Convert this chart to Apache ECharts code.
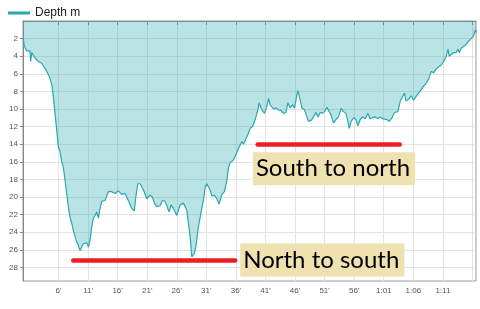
<!DOCTYPE html>
<html><head><meta charset="utf-8">
<script src="https://cdn.jsdelivr.net/npm/echarts@6/dist/echarts.min.js"></script>
<style>html,body{margin:0;padding:0;background:#fff}#c{width:480px;height:309px}</style>
</head><body><div id="c"></div>
<script>
const seriesName = 'Depth m';
const minutes = [0.05,0.17,0.34,0.63,0.90,1.18,1.30,1.47,1.74,2.03,
2.59,3.16,3.43,4.01,4.45,4.86,5.13,5.41,5.70,5.97,
6.26,6.55,6.82,7.11,7.39,7.66,7.95,8.24,8.51,8.80,
9.09,9.36,9.64,9.93,10.20,10.49,10.78,11.05,11.34,11.62,
11.90,12.18,12.47,12.74,13.03,13.32,13.87,14.43,15.01,15.57,
16.12,16.70,17.26,17.55,17.82,18.39,18.83,19.07,19.41,19.80,
20.36,20.93,21.49,21.88,22.22,22.62,23.18,23.57,24.03,24.31,
24.70,25.04,25.43,25.72,26.01,26.28,26.57,26.85,27.12,27.41,
27.70,27.97,28.26,28.54,28.71,28.98,29.22,29.66,30.12,30.51,
30.80,31.08,31.35,31.64,31.94,32.37,32.78,33.16,33.62,34.06,
34.47,34.74,35.03,35.58,35.99,36.43,36.72,37.01,37.28,37.56,
38.02,38.41,38.80,39.26,39.71,39.93,40.39,40.83,41.24,41.51,
41.79,42.08,42.35,42.76,43.20,43.65,44.04,44.45,44.79,45.18,
45.57,45.91,46.31,46.48,46.87,47.16,47.60,48.00,48.27,48.73,
49.12,49.53,49.87,50.25,50.64,50.98,51.39,51.78,52.12,52.50,
52.91,53.35,53.81,54.20,54.60,54.94,55.16,55.50,55.89,56.29,
56.63,57.02,57.41,57.87,58.32,58.71,59.10,59.56,60.02,60.41,
60.80,61.13,61.54,61.93,62.39,62.83,63.40,63.79,64.18,64.52,
64.75,65.19,65.65,66.04,66.45,66.89,67.34,67.73,68.14,68.58,
69.04,69.42,69.83,70.27,70.73,71.12,71.52,71.86,72.08,72.42,
72.81,73.21,73.55,73.77,74.11,74.50,74.87,75.33,75.80,76.19,
76.48,76.65];
const depth = [1.9,2.7,3.0,3.4,3.6,3.4,4.6,3.6,3.4,4.2,
4.6,4.8,5.1,5.7,6.3,7.2,8.6,10.5,12.4,14.3,
14.8,16.0,16.6,18.1,19.6,21.1,22.3,23.0,23.8,24.5,
25.1,25.5,26.1,25.7,25.3,25.5,25.2,25.7,24.9,23.4,
22.4,22.1,21.7,22.4,21.3,20.5,20.4,19.4,19.4,19.6,
19.3,19.7,19.6,19.4,20.4,21.3,21.6,20.0,18.5,18.5,
19.2,20.2,19.8,20.0,20.7,21.1,21.0,20.4,20.5,20.7,
21.7,20.9,21.3,21.5,22.1,21.5,20.9,20.8,20.7,20.9,
21.5,23.0,24.5,26.8,27.0,26.4,25.7,23.4,21.7,20.4,
18.9,18.5,18.7,19.2,19.9,19.8,20.2,20.8,19.7,19.4,
18.1,16.7,16.1,15.8,15.2,14.5,14.1,13.7,14.0,13.9,
12.9,12.2,12.0,11.2,10.1,9.3,10.1,10.5,9.7,8.8,
9.5,9.7,10.0,9.9,10.1,10.2,10.5,10.4,9.3,9.9,
9.5,9.9,8.4,7.9,9.0,9.9,10.1,10.9,11.4,11.3,
10.9,10.4,10.9,10.4,10.5,10.3,9.8,10.3,10.7,11.6,
11.2,10.9,9.9,10.3,10.5,11.4,12.2,11.4,11.0,11.2,
11.9,11.2,10.9,11.1,10.5,11.1,11.0,10.9,11.1,10.9,
11.1,10.9,11.2,11.4,11.0,10.4,10.3,9.1,8.6,8.2,
9.1,8.9,8.5,9.0,8.6,8.2,7.8,7.4,7.1,6.6,
5.7,5.9,5.5,5.2,5.0,4.6,4.1,3.2,4.0,3.8,
3.6,3.6,3.2,3.6,3.1,2.9,2.7,2.3,2.0,1.7,
1.0,1.3];
const xTickValues = [6,11,16,21,26,31,36,41,46,51,56,61,66,71,76];
const xLabelValues = [6,11,16,21,26,31,36,41,46,51,56,61,66,71];
const yTickValues = [2,4,6,8,10,12,14,16,18,20,22,24,26,28];
const annotationLabels = ['North to south','South to north'];
const annotationFrom = [8.5, 39.69];
const annotationTo = [35.88, 63.7];
const annotationDepth = [27.23, 14.0];

function fmtMin(v){
  if (v < 60) return v + "'";
  const s = v - 60;
  return '1:' + (s < 10 ? '0' : '') + s;
}

const lineColor = '#27a9b0';
const chart = echarts.init(document.getElementById('c'), null, {renderer:'canvas'});
chart.setOption({
  animation:false,
  legend:{left:3, top:2, itemWidth:22, itemHeight:3, itemGap:10,
    data:[{name:seriesName, icon:'rect'}],
    textStyle:{fontSize:12, color:'#222', fontFamily:'Liberation Sans'}},
  grid:{left:23, right:4, top:21, bottom:28, show:true, borderColor:'#999', borderWidth:1, containLabel:false},
  xAxis:{type:'value', min:0, max:76.6,
    axisLine:{show:true, lineStyle:{color:'#888'}},
    axisTick:{show:true, customValues:xTickValues, length:4, lineStyle:{color:'#888'}},
    axisLabel:{customValues:xLabelValues, formatter:fmtMin, fontSize:8, color:'#555', margin:6, fontFamily:'Liberation Sans'},
    splitLine:{show:true, lineStyle:{color:'#e3e3e3', width:1}}},
  yAxis:{type:'value', inverse:true, min:0, max:29.55, interval:2,
    axisLine:{show:true, lineStyle:{color:'#888'}},
    axisTick:{show:true, customValues:yTickValues, length:3, lineStyle:{color:'#888'}},
    axisLabel:{customValues:yTickValues, fontSize:8, color:'#555', margin:5, fontFamily:'Liberation Sans'},
    splitLine:{show:true, lineStyle:{color:'#e3e3e3', width:1}}},
  series:[{
    type:'line', name:seriesName, showSymbol:false, symbol:'none',
    data: minutes.map((m,i)=>[m, depth[i]]),
    lineStyle:{color:lineColor, width:1.2},
    itemStyle:{color:lineColor},
    areaStyle:{color:lineColor, opacity:0.32},
    markLine:{silent:true, symbol:['none','none'], label:{show:false},
      lineStyle:{color:'#ee1c24', width:4.5, type:'solid', cap:'round'},
      emphasis:{disabled:true},
      data: annotationLabels.map((l,i)=>[{coord:[annotationFrom[i], annotationDepth[i]]},{coord:[annotationTo[i], annotationDepth[i]]}])}
  }]
});

const graphics = annotationLabels.map((label,i)=>{
  const p1 = chart.convertToPixel({seriesIndex:0}, [annotationFrom[i], annotationDepth[i]]);
  const p2 = chart.convertToPixel({seriesIndex:0}, [annotationTo[i], annotationDepth[i]]);
  let x, y;
  if (i === 0) { x = p2[0] + 5; y = p1[1] - 17; }
  else { x = p1[0] - 4.8; y = p1[1] + 8; }
  return {type:'text', x:x, y:y, z:100,
    style:{text:label, fontSize:24, fontFamily:'Lato', fill:'#000',
      backgroundColor:'#efe2b0', padding:[4,5,4,3], lineHeight:25}};
});
chart.setOption({graphic:graphics});
</script>
</body></html>
